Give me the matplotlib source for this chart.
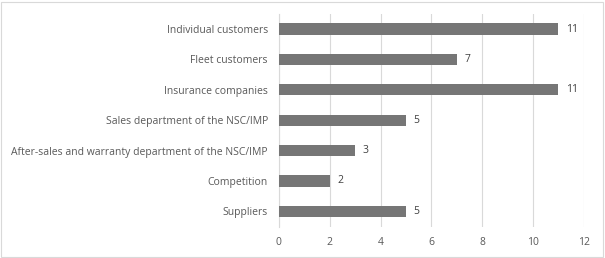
import matplotlib.pyplot as plt
from matplotlib.patches import Rectangle

# data (top to bottom as shown)
categories = [
    "Individual customers",
    "Fleet customers",
    "Insurance companies",
    "Sales department of the NSC/IMP",
    "After-sales and warranty department of the NSC/IMP",
    "Competition",
    "Suppliers",
]
values = [11, 7, 11, 5, 3, 2, 5]
x_ticks = [0, 2, 4, 6, 8, 10, 12]

plt.rcParams['font.family'] = ['Open Sans', 'DejaVu Sans']

fig = plt.figure(figsize=(6.05, 2.58), dpi=100)
ax = fig.add_axes([0.461, 0.120, 0.504, 0.826])

# reverse so the first category sits at the top
ypos = list(range(len(categories)))[::-1]
ax.barh(ypos, values, height=0.37, color='#767676', zorder=3)

for y, v in zip(ypos, values):
    ax.text(v + 0.3, y, str(v), va='center', ha='left', fontsize=7.5, color='#404040')

ax.set_xlim(0, 12)
ax.set_ylim(-0.52, 6.5)
ax.set_xticks(x_ticks)
ax.set_yticks(ypos)
ax.set_yticklabels(categories)
ax.tick_params(axis='both', length=0, labelsize=7.5, colors='#595959')
ax.tick_params(axis='y', pad=8)
ax.tick_params(axis='x', pad=7)

ax.grid(axis='x', color='#d9d9d9', linewidth=0.8, zorder=0)
for side in ['top', 'right', 'bottom']:
    ax.spines[side].set_visible(False)
ax.spines['left'].set_color('#d9d9d9')
ax.spines['left'].set_linewidth(0.8)

# light frame round the whole chart
fig.patches.append(Rectangle((0.002, 0.004), 0.995, 0.99, transform=fig.transFigure,
                             fill=False, edgecolor='#d9d9d9', linewidth=0.8))

fig.savefig('out.png', dpi=100)
